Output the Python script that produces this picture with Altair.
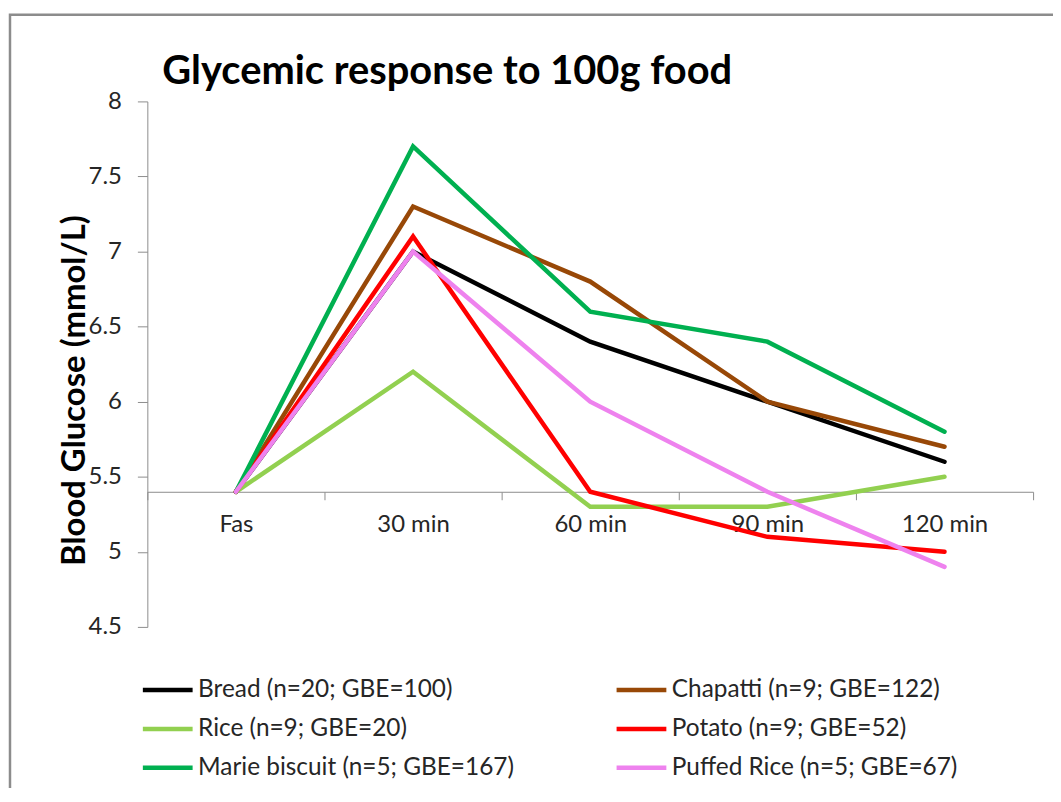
import altair as alt
import pandas as pd

times = ["Fas", "30 min", "60 min", "90 min", "120 min"]
foods = [
    "Bread (n=20; GBE=100)",
    "Chapatti (n=9; GBE=122)",
    "Rice (n=9; GBE=20)",
    "Potato (n=9; GBE=52)",
    "Marie biscuit  (n=5; GBE=167)",
    "Puffed Rice (n=5; GBE=67)",
]
colors = ["#000000", "#984807", "#92D050", "#FF0000", "#00B050", "#EE82EE"]

bread = [5.4, 7.0, 6.4, 6.0, 5.6]
chapatti = [5.4, 7.3, 6.8, 6.0, 5.7]
rice = [5.4, 6.2, 5.3, 5.3, 5.5]
potato = [5.4, 7.1, 5.4, 5.1, 5.0]
marie = [5.4, 7.7, 6.6, 6.4, 5.8]
puffed = [5.4, 7.0, 6.0, 5.4, 4.9]

y_ticks = [4.5, 5, 5.5, 6, 6.5, 7, 7.5, 8]

series = [bread, chapatti, rice, potato, marie, puffed]
rows = []
for food, vals in zip(foods, series):
    for t, v in zip(times, vals):
        rows.append({"food": food, "time": t, "value": v})
df = pd.DataFrame(rows)

W, H = 890, 528
FONT = "Lato"
axis_offset = -(5.4 - 4.5) / (8 - 4.5) * H

lines = alt.Chart(df).mark_line(strokeWidth=4.5, strokeCap="round").encode(
    x=alt.X(
        "time:N",
        sort=times,
        scale=alt.Scale(type="band", paddingInner=0, paddingOuter=0),
        axis=alt.Axis(
            title=None,
            orient="bottom",
            offset=axis_offset,
            tickBand="extent",
            tickSize=8,
            tickColor="#8c8c8c",
            domainColor="#8c8c8c",
            labelFont=FONT,
            labelFontSize=24,
            labelColor="#262626",
            labelPadding=13,
            labelAngle=0,
            grid=False,
        ),
    ),
    y=alt.Y(
        "value:Q",
        scale=alt.Scale(domain=[4.5, 8], nice=False, zero=False),
        axis=alt.Axis(
            values=y_ticks,
            format="~g",
            title="Blood Glucose (mmol/L)",
            titleFont=FONT,
            titleFontSize=33,
            titleFontWeight="bold",
            titleColor="#000000",
            titleX=-73,
            titleY=290,
            titleAngle=270,
            titleAlign="center",
            titleBaseline="middle",
            tickSize=10,
            tickColor="#8c8c8c",
            domainColor="#8c8c8c",
            labelFont=FONT,
            labelFontSize=24,
            labelColor="#262626",
            labelPadding=16,
            grid=False,
        ),
    ),
    color=alt.Color(
        "food:N",
        sort=foods,
        scale=alt.Scale(domain=foods, range=colors),
        legend=alt.Legend(
            title=None,
            orient="none",
            direction="horizontal",
            legendX=-7,
            legendY=564,
            columns=2,
            columnPadding=87,
            rowPadding=-3,
            padding=0,
            symbolType="stroke",
            symbolSize=2500,
            symbolStrokeWidth=4.5,
            labelOffset=3,
            labelFont=FONT,
            labelFontSize=24.5,
            labelColor="#262626",
            labelLimit=0,
        ),
    ),
)

border = alt.Chart(alt.Data(values=[{}])).mark_rect(
    fillOpacity=0, stroke="#8c8c8c", strokeWidth=2.5
).encode(
    x=alt.value(-138), x2=alt.value(1000), y=alt.value(-87), y2=alt.value(800)
)

chart = alt.layer(border, lines).properties(
    width=W,
    height=H,
    padding={"left": 140, "top": 92, "right": 20, "bottom": 160},
    autosize=alt.AutoSizeParams(type="none"),
    title=alt.Title(
        "Glycemic response to 100g food",
        anchor="start",
        frame="group",
        dx=15,
        dy=128,
        offset=17,
        baseline="alphabetic",
        font=FONT,
        fontSize=40,
        fontWeight="bold",
        color="#000000",
    ),
).configure_view(stroke=None)

chart.save("out.html", embed_options={"renderer": "svg", "actions": False})
